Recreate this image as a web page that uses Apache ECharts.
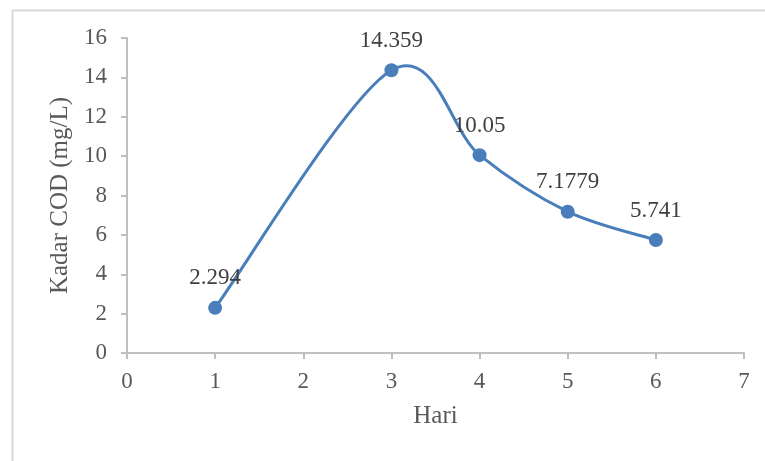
<!DOCTYPE html>
<html>
<head>
<meta charset="utf-8">
<script src="https://cdn.jsdelivr.net/npm/echarts@6/dist/echarts.min.js"></script>
<style>html,body{margin:0;padding:0;background:#fff;}#c{width:765px;height:461px;}</style>
</head>
<body>
<div id="c"></div>
<script>
var days = [1, 3, 4, 5, 6];
var cod = [2.294, 14.359, 10.05, 7.1779, 5.741];
var xTitle = 'Hari';
var yTitle = 'Kadar COD (mg/L)';

var chart = echarts.init(document.getElementById('c'));
var font = 'Liberation Serif, Times New Roman, serif';
var txt = '#595959';
var blue = '#4a7ebb';
var pts = days.map(function (d, i) { return [d, cod[i]]; });

function renderSeg(params, api) {
  var n = pts.length;
  var i = params.dataIndex;
  if (i >= n - 1) return null;
  function P(k) { k = Math.max(0, Math.min(n - 1, k)); return api.coord(pts[k]); }
  var p0 = P(i - 1), p1 = P(i), p2 = P(i + 1), p3 = P(i + 2);
  var t = 1 / 6;
  return {
    type: 'bezierCurve',
    shape: {
      x1: p1[0], y1: p1[1], x2: p2[0], y2: p2[1],
      cpx1: p1[0] + (p2[0] - p0[0]) * t, cpy1: p1[1] + (p2[1] - p0[1]) * t,
      cpx2: p2[0] - (p3[0] - p1[0]) * t, cpy2: p2[1] - (p3[1] - p1[1]) * t
    },
    style: { fill: 'none', stroke: blue, lineWidth: 3, lineCap: 'round' }
  };
}

chart.setOption({
  animation: false,
  backgroundColor: '#fff',
  graphic: [{
    type: 'rect', left: 10, top: 8, silent: true,
    shape: { width: 800, height: 500 },
    style: { fill: 'none', stroke: '#d9d9d9', lineWidth: 2 }
  }],
  grid: { left: 127, right: 21, top: 38, bottom: 108 },
  xAxis: {
    type: 'value', min: 0, max: 7, interval: 1,
    name: xTitle, nameLocation: 'middle', nameGap: 51,
    nameTextStyle: { fontFamily: font, fontSize: 25, color: txt },
    axisLine: { show: true, lineStyle: { color: '#bfbfbf', width: 2 } },
    axisTick: { show: true, length: 6, lineStyle: { color: '#bfbfbf', width: 2 } },
    axisLabel: { fontFamily: font, fontSize: 23, color: txt, margin: 17 },
    splitLine: { show: false }
  },
  yAxis: {
    type: 'value', min: 0, max: 16, interval: 2,
    name: yTitle, nameLocation: 'middle', nameGap: 45, nameRotate: 90,
    nameTextStyle: { fontFamily: font, fontSize: 25, color: txt },
    axisLine: { show: true, lineStyle: { color: '#bfbfbf', width: 2 } },
    axisTick: { show: true, length: 6, lineStyle: { color: '#bfbfbf', width: 2 } },
    axisLabel: { fontFamily: font, fontSize: 23, color: txt, margin: 20 },
    splitLine: { show: false }
  },
  series: [{
    type: 'custom',
    data: pts,
    renderItem: renderSeg,
    clip: false,
    silent: true,
    z: 1
  }, {
    type: 'line',
    data: pts,
    symbol: 'circle', symbolSize: 14,
    lineStyle: { width: 0, opacity: 0 },
    itemStyle: { color: blue },
    z: 3,
    label: {
      show: true, position: 'top', distance: 11,
      fontFamily: font, fontSize: 23, color: '#404040',
      formatter: function (p) { return String(p.value[1]); }
    }
  }]
});
</script>
</body>
</html>
